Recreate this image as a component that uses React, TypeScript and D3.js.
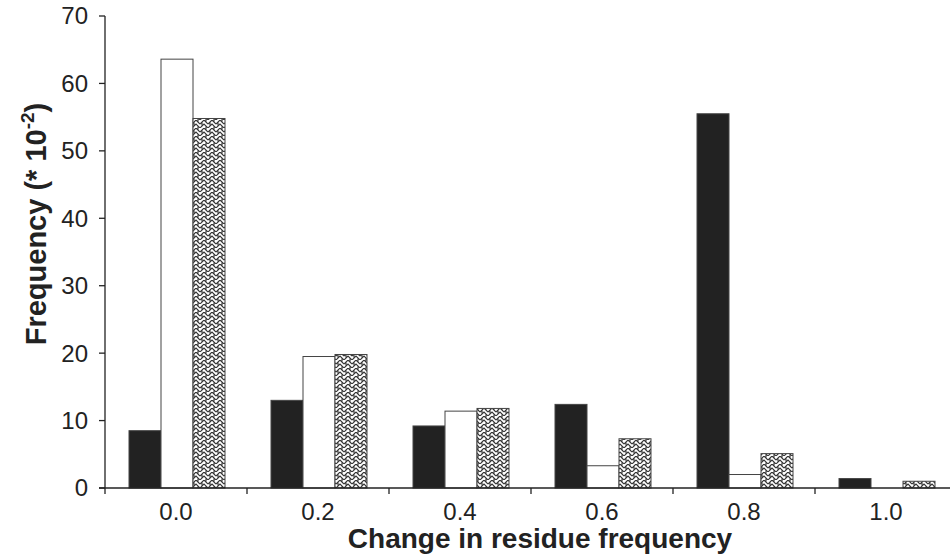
import React, { useEffect, useRef } from 'react';
import * as d3 from 'd3';

// bin labels on the x axis
const categories = ['0.0', '0.2', '0.4', '0.6', '0.8', '1.0'];
// three series, values in units of 10^-2
const blackSeries = [8.5, 13.0, 9.2, 12.4, 55.5, 1.4];
const whiteSeries = [63.6, 19.5, 11.4, 3.3, 2.0, 0];
const hatchSeries = [54.8, 19.8, 11.8, 7.3, 5.1, 1.0];
const yTicks = [0, 10, 20, 30, 40, 50, 60, 70];

const App = () => {
  const ref = useRef<SVGSVGElement>(null);

  useEffect(() => {
    const svg = d3.select(ref.current);
    svg.selectAll('*').remove();

    const left = 105;
    const top = 16;
    const bottom = 488;
    const groupW = 142;

    const x = d3.scaleBand<string>()
      .domain(categories)
      .range([left, left + groupW * categories.length])
      .paddingInner(0)
      .paddingOuter(0);

    const y = d3.scaleLinear().domain([0, 70]).range([bottom, top]);

    const inner = d3.scaleBand<string>()
      .domain(['black', 'white', 'hatch'])
      .range([24, 24 + 96]);

    // basket-weave-ish fill
    const defs = svg.append('defs');
    const pat = defs.append('pattern')
      .attr('id', 'weave')
      .attr('patternUnits', 'userSpaceOnUse')
      .attr('width', 8)
      .attr('height', 8);
    pat.append('rect').attr('width', 8).attr('height', 8).attr('fill', '#fff');
    pat.append('path')
      .attr('d', 'M0,4 L4,0 L8,4 M0,8 L4,4 L8,8 M2,2 L2,6 M6,6 L6,8 M6,0 L6,2')
      .attr('stroke', '#333')
      .attr('stroke-width', 1.1)
      .attr('fill', 'none');

    const series = [
      { key: 'black', values: blackSeries, fill: '#222' },
      { key: 'white', values: whiteSeries, fill: '#fff' },
      { key: 'hatch', values: hatchSeries, fill: 'url(#weave)' },
    ];

    series.forEach((s) => {
      svg.append('g')
        .selectAll('rect')
        .data(s.values.map((v, i) => ({ cat: categories[i], v })).filter(d => d.v > 0))
        .join('rect')
        .attr('x', d => (x(d.cat) as number) + (inner(s.key) as number))
        .attr('y', d => y(d.v))
        .attr('width', inner.bandwidth())
        .attr('height', d => bottom - y(d.v))
        .attr('fill', s.fill)
        .attr('stroke', '#444')
        .attr('stroke-width', 1);
    });

    const font = 'Liberation Sans, Arial, sans-serif';

    // y axis
    const yAxis = svg.append('g').attr('transform', `translate(${left},0)`);
    yAxis.append('line')
      .attr('x1', 0).attr('x2', 0).attr('y1', top).attr('y2', bottom)
      .attr('stroke', '#222').attr('stroke-width', 1.3);
    yTicks.forEach((t) => {
      yAxis.append('line')
        .attr('x1', -6).attr('x2', 0).attr('y1', y(t)).attr('y2', y(t))
        .attr('stroke', '#222').attr('stroke-width', 1.3);
      yAxis.append('text')
        .attr('x', -17).attr('y', y(t)).attr('dy', '0.35em')
        .attr('text-anchor', 'end')
        .attr('font-family', font).attr('font-size', 24).attr('fill', '#222')
        .text(t);
    });

    // x axis
    const xAxis = svg.append('g');
    xAxis.append('line')
      .attr('x1', left - 6).attr('x2', 950).attr('y1', bottom).attr('y2', bottom)
      .attr('stroke', '#222').attr('stroke-width', 1.3);
    d3.range(categories.length + 1).forEach((i) => {
      const px = left + i * groupW;
      xAxis.append('line')
        .attr('x1', px).attr('x2', px).attr('y1', bottom).attr('y2', bottom + 6)
        .attr('stroke', '#222').attr('stroke-width', 1.3);
    });
    categories.forEach((c) => {
      xAxis.append('text')
        .attr('x', (x(c) as number) + x.bandwidth() / 2)
        .attr('y', 520)
        .attr('text-anchor', 'middle')
        .attr('font-family', font).attr('font-size', 24).attr('fill', '#222')
        .text(c);
    });

    // axis titles
    svg.append('text')
      .attr('x', 540).attr('y', 548)
      .attr('text-anchor', 'middle')
      .attr('font-family', font).attr('font-size', 28).attr('font-weight', 'bold').attr('fill', '#222')
      .text('Change in residue frequency');

    const yTitle = svg.append('text')
      .attr('transform', 'translate(46,224) rotate(-90)')
      .attr('text-anchor', 'middle')
      .attr('font-family', font).attr('font-size', 29).attr('font-weight', 'bold').attr('fill', '#222');
    yTitle.append('tspan').text('Frequency (* 10');
    yTitle.append('tspan').attr('dy', -12).attr('font-size', 19).text('-2');
    yTitle.append('tspan').attr('dy', 12).text(')');
  }, []);

  return (
    <svg ref={ref} width={950} height={558} style={{ position: 'absolute', left: 0, top: 0, background: '#fff' }} />
  );
};

export default App;
